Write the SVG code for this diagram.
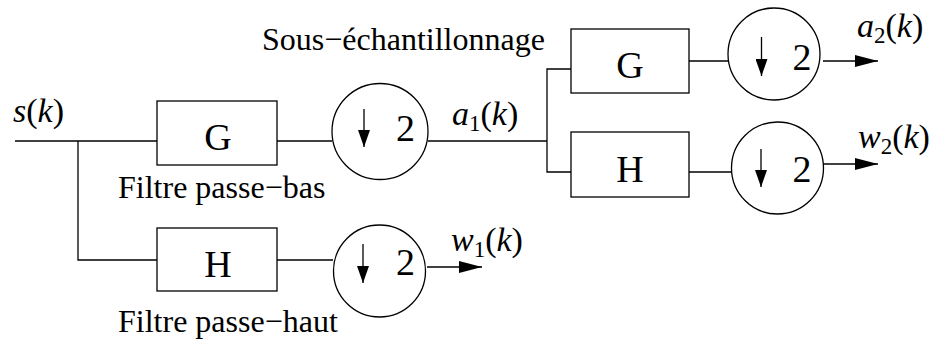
<svg xmlns="http://www.w3.org/2000/svg" width="935" height="345" viewBox="0 0 935 345">
<defs>
<style>
.ln{stroke:#000;stroke-width:1.3;fill:none}
.bx{stroke:#000;stroke-width:1.3;fill:#fff}
.t{font-family:"Liberation Serif","Times New Roman",serif;fill:#000}
.lbl{font-size:32px}
.big{font-size:38px;text-anchor:middle}
.m{font-size:34px}
.i{font-style:italic}
.sub{font-size:23px}
</style>
<marker id="ah" markerUnits="userSpaceOnUse" markerWidth="24" markerHeight="12" refX="23" refY="6" orient="auto">
<path d="M0,0 L23,6 L0,12 z" fill="#000"/>
</marker>
<marker id="dh" markerUnits="userSpaceOnUse" markerWidth="18" markerHeight="12" refX="17" refY="6" orient="auto">
<path d="M0,0 L17,6 L0,12 z" fill="#000"/>
</marker>
</defs>
<rect width="935" height="345" fill="#fff"/>

<g id="connectors">
<polyline class="ln" points="15,141 157,141"/>
<polyline class="ln" points="78,141 78,260 157,260"/>
<line class="ln" x1="277" y1="141" x2="332" y2="141"/>
<line class="ln" x1="428" y1="141" x2="547" y2="141"/>
<polyline class="ln" points="571,69 547,69 547,172 571,172"/>
<line class="ln" x1="689" y1="61" x2="728" y2="61"/>
<line class="ln" x1="689" y1="172" x2="732" y2="172"/>
<line class="ln" x1="277" y1="260" x2="333" y2="260"/>
<line class="ln" x1="823" y1="61" x2="878" y2="61" marker-end="url(#ah)"/>
<line class="ln" x1="823" y1="164" x2="878" y2="164" marker-end="url(#ah)"/>
<line class="ln" x1="427" y1="267" x2="482" y2="267" marker-end="url(#ah)"/>
</g>

<g id="G1">
<rect class="bx" x="157" y="101" width="120" height="64"/>
<text class="t big" x="218" y="150">G</text>
</g>
<g id="H1">
<rect class="bx" x="157" y="228" width="120" height="63"/>
<text class="t big" x="218" y="277">H</text>
</g>
<g id="G2">
<rect class="bx" x="571" y="29" width="118" height="64"/>
<text class="t big" x="630" y="78">G</text>
</g>
<g id="H2">
<rect class="bx" x="571" y="132" width="118" height="65"/>
<text class="t big" x="630" y="182">H</text>
</g>

<g id="D1">
<circle class="bx" cx="380" cy="131.5" r="48"/>
<line class="ln" x1="364" y1="109" x2="364" y2="147" marker-end="url(#dh)"/>
<text class="t big" x="405.5" y="141">2</text>
</g>
<g id="D2">
<circle class="bx" cx="774" cy="54" r="46"/>
<line class="ln" x1="761.5" y1="37" x2="761.5" y2="76" marker-end="url(#dh)"/>
<text class="t big" x="802" y="70">2</text>
</g>
<g id="D3">
<circle class="bx" cx="777.5" cy="168" r="46"/>
<line class="ln" x1="761" y1="149" x2="761" y2="187" marker-end="url(#dh)"/>
<text class="t big" x="802" y="182">2</text>
</g>
<g id="D4">
<circle class="bx" cx="379.5" cy="271" r="46"/>
<line class="ln" x1="363" y1="244" x2="363" y2="283" marker-end="url(#dh)"/>
<text class="t big" x="405.5" y="275">2</text>
</g>

<g id="labels">
<text class="t m" x="13" y="122"><tspan class="i">s</tspan>(<tspan class="i">k</tspan>)</text>
<text class="t m" x="452" y="125"><tspan class="i">a</tspan><tspan class="sub" dy="6">1</tspan><tspan dy="-6">(</tspan><tspan class="i">k</tspan>)</text>
<text class="t m" x="857" y="37"><tspan class="i">a</tspan><tspan class="sub" dy="6">2</tspan><tspan dy="-6">(</tspan><tspan class="i">k</tspan>)</text>
<text class="t m" x="858" y="148"><tspan class="i">w</tspan><tspan class="sub" dy="6">2</tspan><tspan dy="-6">(</tspan><tspan class="i">k</tspan>)</text>
<text class="t m" x="451" y="251"><tspan class="i">w</tspan><tspan class="sub" dy="6">1</tspan><tspan dy="-6">(</tspan><tspan class="i">k</tspan>)</text>
<text class="t lbl" x="118" y="198">Filtre passe−bas</text>
<text class="t lbl" x="118" y="332">Filtre passe−haut</text>
<text class="t lbl" x="262" y="50">Sous−échantillonnage</text>
</g>
</svg>
